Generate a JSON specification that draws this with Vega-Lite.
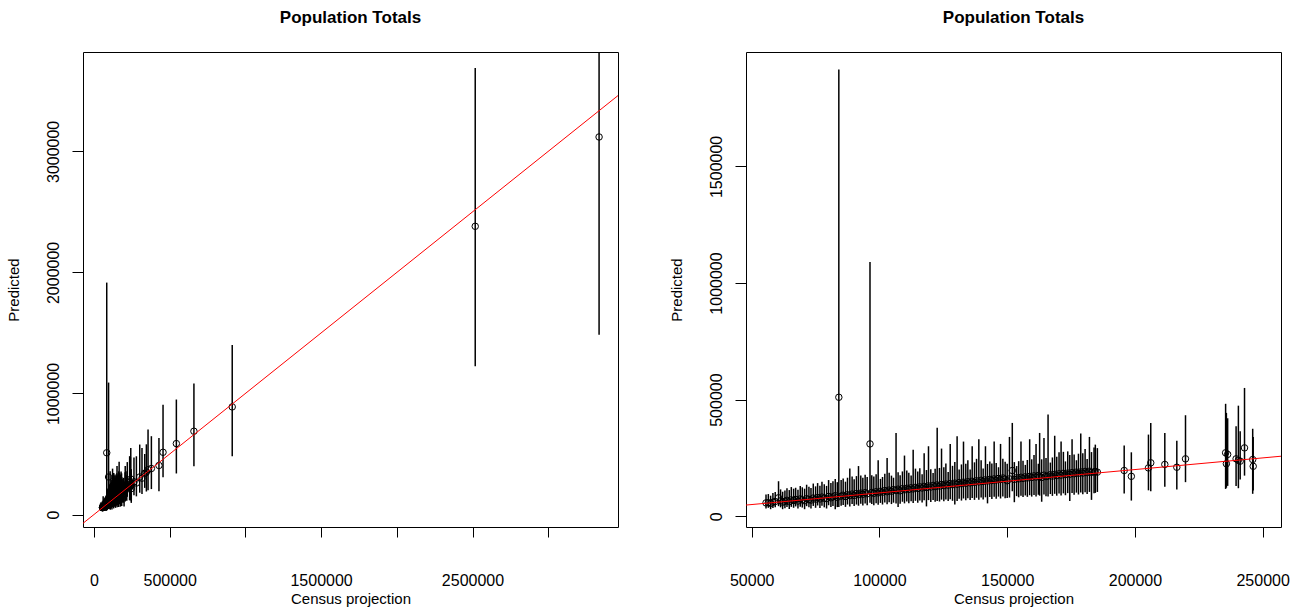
{
  "$schema": "https://vega.github.io/schema/vega-lite/v6.json",
  "autosize": {"type": "pad"},
  "padding": {"left": 5, "top": 8, "right": 5, "bottom": 5},
  "background": "white",
  "config": {
    "view": {"stroke": "black", "strokeWidth": 1},
    "font": "Liberation Sans",
    "axis": {
      "domain": false, "grid": false, "ticks": true, "tickColor": "black", "tickWidth": 1,
      "labelColor": "black", "titleColor": "black", "labelFont": "Liberation Sans",
      "titleFont": "Liberation Sans", "labelFontSize": 16, "titleFontSize": 15,
      "titleFontWeight": "normal", "format": "d"
    },
    "axisX": {"tickSize": 10, "labelPadding": 35, "titlePadding": 3},
    "axisY": {"tickSize": 11, "labelPadding": 11, "titlePadding": 24, "labelAngle": -90},
    "title": {"font": "Liberation Sans", "fontSize": 17, "fontWeight": "bold", "color": "black", "anchor": "middle", "offset": 25}
  },
  "datasets": {
    "d": [
      {"c":55600,"p":57000,"lo":33000,"hi":93000},
      {"c":56500,"p":58000,"lo":36000,"hi":95000},
      {"c":57400,"p":55000,"lo":30000,"hi":88000},
      {"c":58300,"p":60000,"lo":35000,"hi":100000},
      {"c":59200,"p":63000,"lo":38000,"hi":104000},
      {"c":60500,"p":79000,"lo":43000,"hi":150000},
      {"c":61300,"p":66000,"lo":38000,"hi":115000},
      {"c":62100,"p":60000,"lo":30000,"hi":105000},
      {"c":63000,"p":64000,"lo":34000,"hi":110000},
      {"c":63800,"p":68000,"lo":40000,"hi":120000},
      {"c":64700,"p":62000,"lo":31000,"hi":112000},
      {"c":65500,"p":70000,"lo":40000,"hi":125000},
      {"c":66400,"p":67000,"lo":36000,"hi":118000},
      {"c":67200,"p":72000,"lo":42000,"hi":122000},
      {"c":68100,"p":65000,"lo":33000,"hi":113000},
      {"c":69000,"p":74000,"lo":41000,"hi":130000},
      {"c":69800,"p":70000,"lo":37000,"hi":124000},
      {"c":70700,"p":66000,"lo":30000,"hi":118000},
      {"c":71500,"p":75000,"lo":43000,"hi":135000},
      {"c":72400,"p":71000,"lo":38000,"hi":126000},
      {"c":73200,"p":69000,"lo":33000,"hi":121000},
      {"c":74100,"p":78000,"lo":44000,"hi":140000},
      {"c":75000,"p":73000,"lo":36000,"hi":128000},
      {"c":75800,"p":80000,"lo":46000,"hi":142000},
      {"c":76700,"p":74000,"lo":35000,"hi":131000},
      {"c":77500,"p":82000,"lo":45000,"hi":148000},
      {"c":78400,"p":77000,"lo":38000,"hi":137000},
      {"c":79300,"p":75000,"lo":33000,"hi":130000},
      {"c":80100,"p":85000,"lo":47000,"hi":155000},
      {"c":81000,"p":79000,"lo":40000,"hi":142000},
      {"c":81800,"p":83000,"lo":44000,"hi":150000},
      {"c":82700,"p":88000,"lo":30000,"hi":160000},
      {"c":83500,"p":81000,"lo":39000,"hi":146000},
      {"c":84100,"p":510000,"lo":40000,"hi":1916000},
      {"c":85000,"p":86000,"lo":45000,"hi":155000},
      {"c":85800,"p":90000,"lo":48000,"hi":162000},
      {"c":86700,"p":84000,"lo":40000,"hi":148000},
      {"c":87500,"p":92000,"lo":50000,"hi":165000},
      {"c":88400,"p":88000,"lo":42000,"hi":205000},
      {"c":89300,"p":95000,"lo":52000,"hi":170000},
      {"c":90100,"p":89000,"lo":44000,"hi":158000},
      {"c":91000,"p":97000,"lo":50000,"hi":172000},
      {"c":91800,"p":92000,"lo":45000,"hi":215000},
      {"c":92700,"p":99000,"lo":53000,"hi":175000},
      {"c":93500,"p":94000,"lo":46000,"hi":165000},
      {"c":94400,"p":101000,"lo":55000,"hi":178000},
      {"c":95200,"p":96000,"lo":47000,"hi":168000},
      {"c":96300,"p":310000,"lo":58000,"hi":1090000},
      {"c":97000,"p":102000,"lo":52000,"hi":176000},
      {"c":97800,"p":98000,"lo":47000,"hi":170000},
      {"c":98700,"p":105000,"lo":56000,"hi":180000},
      {"c":99500,"p":100000,"lo":49000,"hi":240000},
      {"c":100400,"p":107000,"lo":57000,"hi":160000},
      {"c":101200,"p":103000,"lo":50000,"hi":168000},
      {"c":102100,"p":110000,"lo":59000,"hi":182000},
      {"c":103000,"p":105000,"lo":51000,"hi":250000},
      {"c":103800,"p":112000,"lo":60000,"hi":186000},
      {"c":104700,"p":107000,"lo":52000,"hi":174000},
      {"c":105500,"p":114000,"lo":58000,"hi":165000},
      {"c":106500,"p":110000,"lo":55000,"hi":357000},
      {"c":107300,"p":116000,"lo":40000,"hi":188000},
      {"c":108100,"p":109000,"lo":53000,"hi":176000},
      {"c":109000,"p":118000,"lo":62000,"hi":192000},
      {"c":109800,"p":113000,"lo":55000,"hi":260000},
      {"c":110700,"p":120000,"lo":63000,"hi":196000},
      {"c":111500,"p":115000,"lo":56000,"hi":186000},
      {"c":112400,"p":122000,"lo":64000,"hi":175000},
      {"c":113200,"p":117000,"lo":57000,"hi":285000},
      {"c":114100,"p":124000,"lo":66000,"hi":204000},
      {"c":115000,"p":119000,"lo":58000,"hi":192000},
      {"c":115800,"p":126000,"lo":67000,"hi":206000},
      {"c":116700,"p":121000,"lo":59000,"hi":180000},
      {"c":117500,"p":128000,"lo":68000,"hi":270000},
      {"c":118400,"p":123000,"lo":42000,"hi":198000},
      {"c":119200,"p":130000,"lo":69000,"hi":300000},
      {"c":120100,"p":125000,"lo":61000,"hi":201000},
      {"c":121000,"p":132000,"lo":70000,"hi":185000},
      {"c":121800,"p":127000,"lo":62000,"hi":204000},
      {"c":122600,"p":134000,"lo":65000,"hi":379000},
      {"c":123500,"p":129000,"lo":63000,"hi":207000},
      {"c":124300,"p":136000,"lo":71000,"hi":290000},
      {"c":125200,"p":131000,"lo":64000,"hi":210000},
      {"c":126000,"p":138000,"lo":72000,"hi":226000},
      {"c":126900,"p":133000,"lo":65000,"hi":190000},
      {"c":127700,"p":140000,"lo":73000,"hi":310000},
      {"c":128600,"p":135000,"lo":66000,"hi":216000},
      {"c":129500,"p":142000,"lo":50000,"hi":232000},
      {"c":130400,"p":137000,"lo":65000,"hi":343000},
      {"c":131200,"p":144000,"lo":75000,"hi":200000},
      {"c":132100,"p":139000,"lo":67000,"hi":222000},
      {"c":132900,"p":146000,"lo":76000,"hi":320000},
      {"c":133800,"p":141000,"lo":68000,"hi":225000},
      {"c":134600,"p":148000,"lo":77000,"hi":240000},
      {"c":135500,"p":143000,"lo":69000,"hi":200000},
      {"c":136300,"p":150000,"lo":78000,"hi":300000},
      {"c":137200,"p":145000,"lo":70000,"hi":231000},
      {"c":138000,"p":152000,"lo":79000,"hi":246000},
      {"c":138900,"p":147000,"lo":71000,"hi":330000},
      {"c":139800,"p":154000,"lo":80000,"hi":240000},
      {"c":140600,"p":149000,"lo":72000,"hi":205000},
      {"c":141500,"p":156000,"lo":81000,"hi":300000},
      {"c":142300,"p":151000,"lo":55000,"hi":224000},
      {"c":143200,"p":158000,"lo":82000,"hi":235000},
      {"c":144000,"p":153000,"lo":74000,"hi":226000},
      {"c":144900,"p":160000,"lo":83000,"hi":320000},
      {"c":145700,"p":155000,"lo":75000,"hi":228000},
      {"c":146600,"p":162000,"lo":84000,"hi":210000},
      {"c":147400,"p":157000,"lo":76000,"hi":310000},
      {"c":148300,"p":164000,"lo":85000,"hi":246000},
      {"c":149200,"p":159000,"lo":77000,"hi":234000},
      {"c":150000,"p":152000,"lo":78000,"hi":225000},
      {"c":150900,"p":160000,"lo":80000,"hi":340000},
      {"c":152000,"p":196000,"lo":107000,"hi":400000},
      {"c":152800,"p":158000,"lo":60000,"hi":232000},
      {"c":153700,"p":165000,"lo":86000,"hi":215000},
      {"c":154500,"p":160000,"lo":81000,"hi":236000},
      {"c":155400,"p":167000,"lo":88000,"hi":320000},
      {"c":156200,"p":162000,"lo":82000,"hi":238000},
      {"c":157100,"p":169000,"lo":89000,"hi":220000},
      {"c":157900,"p":164000,"lo":83000,"hi":241000},
      {"c":158800,"p":171000,"lo":90000,"hi":330000},
      {"c":159600,"p":166000,"lo":84000,"hi":244000},
      {"c":160500,"p":173000,"lo":91000,"hi":262000},
      {"c":161300,"p":168000,"lo":85000,"hi":310000},
      {"c":162200,"p":175000,"lo":92000,"hi":225000},
      {"c":162700,"p":170000,"lo":88000,"hi":357000},
      {"c":163500,"p":166000,"lo":62000,"hi":244000},
      {"c":164400,"p":176000,"lo":93000,"hi":335000},
      {"c":165200,"p":170000,"lo":86000,"hi":250000},
      {"c":166000,"p":172000,"lo":85000,"hi":436000},
      {"c":166900,"p":178000,"lo":95000,"hi":230000},
      {"c":167700,"p":172000,"lo":87000,"hi":252000},
      {"c":168600,"p":180000,"lo":96000,"hi":345000},
      {"c":169400,"p":174000,"lo":88000,"hi":255000},
      {"c":170300,"p":182000,"lo":97000,"hi":274000},
      {"c":171100,"p":176000,"lo":89000,"hi":320000},
      {"c":172000,"p":184000,"lo":98000,"hi":276000},
      {"c":172800,"p":178000,"lo":90000,"hi":235000},
      {"c":173700,"p":185000,"lo":99000,"hi":278000},
      {"c":174500,"p":180000,"lo":65000,"hi":262000},
      {"c":175400,"p":187000,"lo":100000,"hi":330000},
      {"c":176200,"p":182000,"lo":92000,"hi":265000},
      {"c":177100,"p":189000,"lo":101000,"hi":240000},
      {"c":177900,"p":184000,"lo":93000,"hi":268000},
      {"c":178800,"p":190000,"lo":102000,"hi":355000},
      {"c":179600,"p":185000,"lo":94000,"hi":270000},
      {"c":180500,"p":192000,"lo":103000,"hi":288000},
      {"c":181300,"p":187000,"lo":95000,"hi":245000},
      {"c":182200,"p":193000,"lo":104000,"hi":340000},
      {"c":183000,"p":188000,"lo":70000,"hi":275000},
      {"c":184000,"p":190000,"lo":98000,"hi":295000},
      {"c":184500,"p":192000,"lo":100000,"hi":307000},
      {"c":185300,"p":189000,"lo":104000,"hi":292000},
      {"c":195800,"p":196000,"lo":97000,"hi":303000},
      {"c":198600,"p":171000,"lo":67000,"hi":274000},
      {"c":205300,"p":207000,"lo":111000,"hi":350000},
      {"c":206200,"p":229000,"lo":107000,"hi":400000},
      {"c":211700,"p":222000,"lo":126000,"hi":357000},
      {"c":216400,"p":210000,"lo":114000,"hi":324000},
      {"c":219800,"p":246000,"lo":146000,"hi":433000},
      {"c":235500,"p":272000,"lo":117000,"hi":482000},
      {"c":235800,"p":225000,"lo":122000,"hi":443000},
      {"c":236300,"p":265000,"lo":130000,"hi":420000},
      {"c":239600,"p":246000,"lo":129000,"hi":386000},
      {"c":240500,"p":240000,"lo":120000,"hi":474000},
      {"c":241200,"p":236000,"lo":157000,"hi":364000},
      {"c":242900,"p":293000,"lo":174000,"hi":550000},
      {"c":246100,"p":243000,"lo":96000,"hi":375000},
      {"c":246300,"p":214000,"lo":110000,"hi":340000},
      {"c":264000,"p":270000,"lo":160000,"hi":470000},
      {"c":280000,"p":260000,"lo":150000,"hi":481000},
      {"c":302000,"p":310000,"lo":180000,"hi":578000},
      {"c":317000,"p":300000,"lo":170000,"hi":550000},
      {"c":335000,"p":340000,"lo":220000,"hi":500000},
      {"c":346000,"p":350000,"lo":190000,"hi":580000},
      {"c":357000,"p":370000,"lo":200000,"hi":702000},
      {"c":379000,"p":380000,"lo":210000,"hi":647000},
      {"c":429000,"p":405000,"lo":192000,"hi":633000},
      {"c":456000,"p":514000,"lo":308000,"hi":906000},
      {"c":544000,"p":586000,"lo":339000,"hi":950000},
      {"c":660000,"p":688000,"lo":399000,"hi":1082000},
      {"c":913000,"p":889000,"lo":481000,"hi":1401000},
      {"c":2518000,"p":2381000,"lo":1225000,"hi":3689000},
      {"c":3336000,"p":3119000,"lo":1486000,"hi":3950000}
    ],
    "ab": [{"v": -500000}, {"v": 5000000}]
  },
  "resolve": {"scale": {"x": "independent", "y": "independent"}},
  "spacing": 128,
  "bounds": "flush",
  "hconcat": [
    {
      "width": 535,
      "height": 475,
      "title": "Population Totals",
      "layer": [
        {
          "data": {"name": "d"},
          "mark": {"type": "rule", "color": "black", "strokeWidth": 1.5, "clip": true},
          "encoding": {
            "x": {"field": "c", "type": "quantitative", "title": "Census projection",
                  "scale": {"domain": [-72650, 3461000], "nice": false, "zero": false},
                  "axis": {"values": [0, 500000, 1000000, 1500000, 2000000, 2500000, 3000000],
                           "labelExpr": "datum.value == 1000000 || datum.value == 2000000 || datum.value == 3000000 ? '' : format(datum.value, 'd')"}},
            "y": {"field": "lo", "type": "quantitative", "title": "Predicted",
                  "scale": {"domain": [-103200, 3821000], "nice": false, "zero": false},
                  "axis": {"values": [0, 1000000, 2000000, 3000000]}},
            "y2": {"field": "hi"}
          }
        },
        {
          "data": {"name": "d"},
          "mark": {"type": "point", "shape": "circle", "size": 42, "color": "black", "strokeWidth": 1, "filled": false, "opacity": 1, "clip": true},
          "encoding": {
            "x": {"field": "c", "type": "quantitative"},
            "y": {"field": "p", "type": "quantitative"}
          }
        },
        {
          "data": {"name": "ab"},
          "mark": {"type": "line", "color": "red", "strokeWidth": 1, "clip": true},
          "encoding": {
            "x": {"field": "v", "type": "quantitative"},
            "y": {"field": "v", "type": "quantitative"}
          }
        }
      ]
    },
    {
      "width": 535,
      "height": 475,
      "title": "Population Totals",
      "layer": [
        {
          "data": {"name": "d"},
          "transform": [{"filter": "datum.c < 260000"}],
          "mark": {"type": "rule", "color": "black", "strokeWidth": 1.5, "clip": true},
          "encoding": {
            "x": {"field": "c", "type": "quantitative", "title": "Census projection",
                  "scale": {"domain": [47765, 257180], "nice": false, "zero": false},
                  "axis": {"values": [50000, 100000, 150000, 200000, 250000]}},
            "y": {"field": "lo", "type": "quantitative", "title": "Predicted",
                  "scale": {"domain": [-46300, 1990600], "nice": false, "zero": false},
                  "axis": {"values": [0, 500000, 1000000, 1500000]}},
            "y2": {"field": "hi"}
          }
        },
        {
          "data": {"name": "d"},
          "transform": [{"filter": "datum.c < 260000"}],
          "mark": {"type": "point", "shape": "circle", "size": 42, "color": "black", "strokeWidth": 1, "filled": false, "opacity": 1, "clip": true},
          "encoding": {
            "x": {"field": "c", "type": "quantitative"},
            "y": {"field": "p", "type": "quantitative"}
          }
        },
        {
          "data": {"name": "ab"},
          "mark": {"type": "line", "color": "red", "strokeWidth": 1, "clip": true},
          "encoding": {
            "x": {"field": "v", "type": "quantitative"},
            "y": {"field": "v", "type": "quantitative"}
          }
        }
      ]
    }
  ]
}
